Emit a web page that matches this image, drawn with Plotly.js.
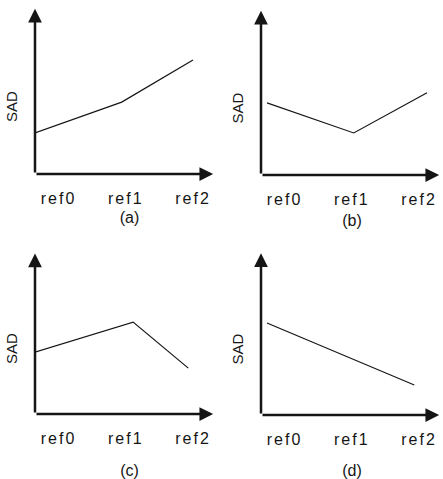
<!DOCTYPE html>
<html>
<head>
<meta charset="utf-8">
<script src="https://cdn.plot.ly/plotly-3.0.1.min.js"></script>
<style>
  html, body { margin: 0; padding: 0; background: #fff; }
  #chart { width: 443px; height: 479px; }
  g[class$="tick"] text { letter-spacing: 2px; }
</style>
</head>
<body>
<div id="chart"></div>
<script>
// ---- data ----
const categories = ['ref0', 'ref1', 'ref2'];
const tickPos = [0, 1, 2];
const panelLabels = ['(a)', '(b)', '(c)', '(d)'];
const yLabel = 'SAD';

const xA = [-0.35, 0.94, 2.0];
const sadA = [2.43, 4.26, 6.75];
const xB = [-0.26, 1.03, 2.12];
const sadB = [4.31, 2.51, 4.91];
const xC = [-0.35, 1.11, 1.93];
const sadC = [3.78, 5.61, 2.80];
const xD = [-0.26, 1.0, 1.93];
const sadD = [5.58, 3.41, 1.82];

// ---- layout config ----
const W = 443, H = 479;
const XMIN = -0.3494;
const XTIP = 2.3, YTIP = 9.8;
const INK = '#151515';
const FONT = 'Liberation Sans, Arial, sans-serif';

const panels = [
  { x: xA, y: sadA, xd: [35, 224], yd: [174, 39], xmax: 2.461, tstand: 5 },
  { x: xB, y: sadB, xd: [261, 443], yd: [175, 41], xmax: 2.357, tstand: 7 },
  { x: xC, y: sadC, xd: [35, 224], yd: [414, 283], xmax: 2.461, tstand: 22 },
  { x: xD, y: sadD, xd: [261, 443], yd: [415, 283], xmax: 2.357, tstand: 20 }
];

const traces = [];
const layout = {
  width: W, height: H,
  margin: { l: 0, r: 0, t: 0, b: 0 },
  paper_bgcolor: '#fff', plot_bgcolor: '#fff',
  showlegend: false,
  font: { family: FONT, color: INK, size: 15 },
  annotations: []
};

panels.forEach((p, i) => {
  const n = i === 0 ? '' : String(i + 1);
  const xa = 'x' + n, ya = 'y' + n;
  traces.push({
    type: 'scatter', mode: 'lines',
    x: p.x, y: p.y,
    xaxis: xa, yaxis: ya,
    line: { color: INK, width: 1.2 },
    hoverinfo: 'skip'
  });
  layout['xaxis' + n] = {
    domain: [p.xd[0] / W, Math.min(1, p.xd[1] / W)],
    anchor: ya,
    range: [XMIN, p.xmax],
    tickmode: 'array', tickvals: tickPos, ticktext: categories,
    ticks: '', showline: false, showgrid: false, zeroline: false,
    ticklabelstandoff: 13,
    tickfont: { family: FONT, size: 16, color: INK },
    title: { text: panelLabels[i], font: { family: FONT, size: 16, color: INK }, standoff: p.tstand }
  };
  layout['yaxis' + n] = {
    domain: [1 - p.yd[0] / H, 1 - p.yd[1] / H],
    anchor: xa,
    range: [0, 8],
    showticklabels: false, ticks: '', showline: false, showgrid: false, zeroline: false,
    title: { text: yLabel, font: { family: FONT, size: 15, color: INK }, standoff: 12 }
  };
  // axis arrows
  const common = {
    xref: xa, yref: ya, axref: xa, ayref: ya, text: '',
    showarrow: true, arrowhead: 2, arrowsize: 1.1, arrowwidth: 2.5, arrowcolor: INK, standoff: 0
  };
  layout.annotations.push(Object.assign({}, common, { x: XTIP, y: 0, ax: XMIN, ay: 0 }));
  layout.annotations.push(Object.assign({}, common, { x: XMIN, y: YTIP, ax: XMIN, ay: 0 }));
});

Plotly.newPlot('chart', traces, layout, { staticPlot: true, displayModeBar: false });
</script>
</body>
</html>
